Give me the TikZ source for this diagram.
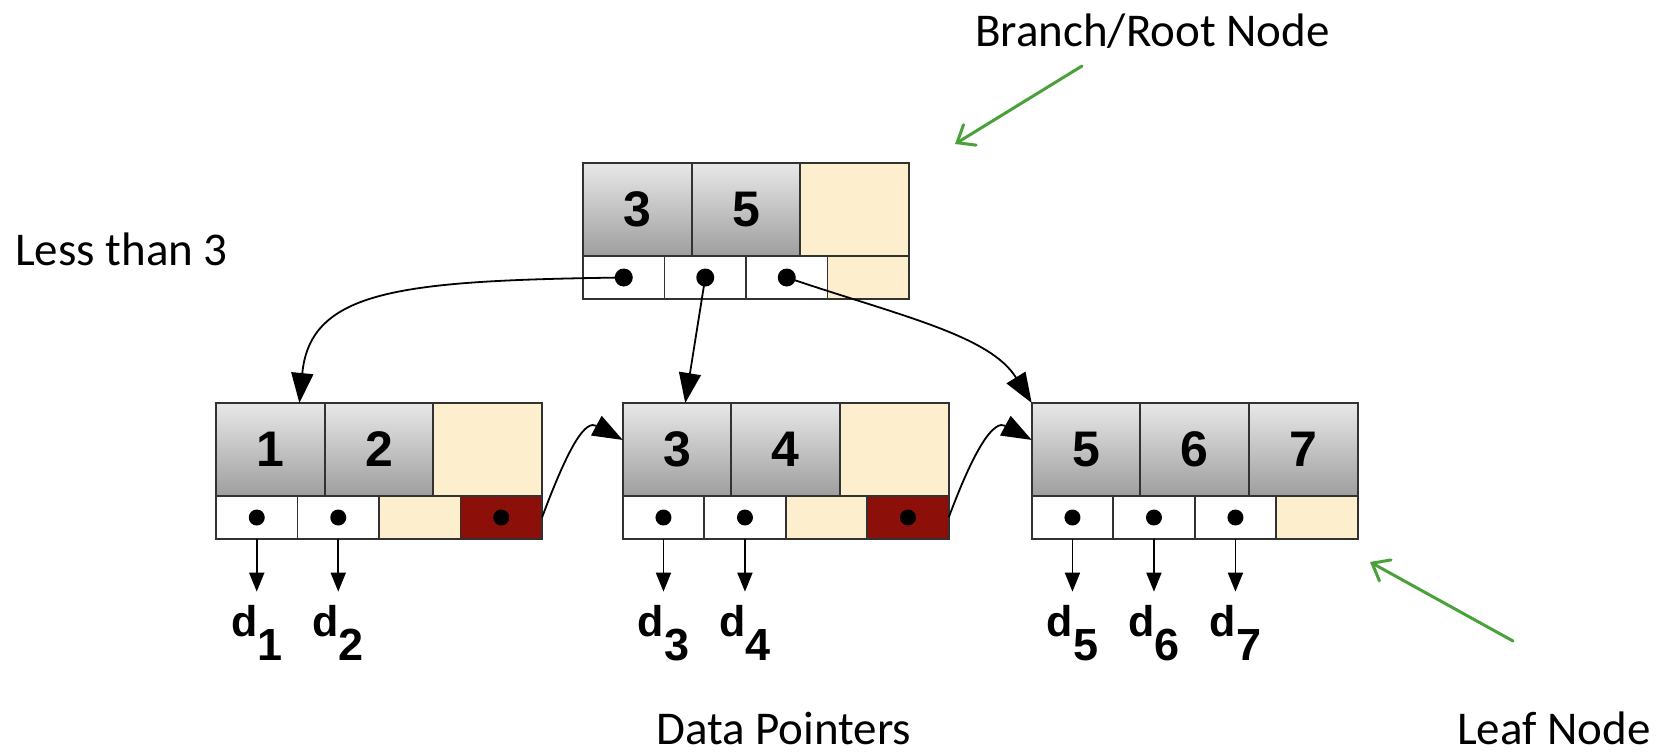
\documentclass[tikz,border=0pt]{standalone}
\usepackage{fontspec}
\setmainfont{Carlito}
\newfontfamily\keyfont{Liberation Sans}
\usetikzlibrary{arrows.meta,calc}

\definecolor{cellline}{RGB}{50,50,50}
\definecolor{keytop}{RGB}{232,232,232}
\definecolor{keybot}{RGB}{158,158,158}
\definecolor{freecell}{RGB}{253,239,205}
\definecolor{linkcell}{RGB}{140,15,10}
\definecolor{notegreen}{RGB}{74,160,58}

\tikzset{
  cell/.style={draw=cellline, line width=1.8pt, anchor=north west, inner sep=0pt, outer sep=0pt},
  keycell/.style={cell, minimum width=108.67pt, minimum height=93pt,
    top color=keytop, bottom color=keybot,
    font=\keyfont\bfseries\fontsize{50}{50}\selectfont},
  emptykey/.style={cell, minimum width=108.67pt, minimum height=93pt, fill=freecell},
  ptrcell/.style={cell, minimum width=81.5pt, minimum height=43pt, fill=white},
  emptyptr/.style={cell, minimum width=81.5pt, minimum height=43pt, fill=freecell},
  linkptr/.style={cell, minimum width=81.5pt, minimum height=43pt, fill=linkcell},
  dot/.style={circle, fill=black, inner sep=0pt, minimum size=18pt},
  treearrow/.style={line width=1.8pt, -{Triangle[length=30pt,width=22pt]}},
  dataarrow/.style={line width=1.8pt, -{Triangle[length=19pt,width=15pt]}, shorten >=13pt},
  dlabel/.style={anchor=base, inner sep=0pt, font=\keyfont\bfseries\fontsize{43}{43}\selectfont},
  note/.style={anchor=base west, inner sep=0pt, font=\fontsize{47}{56}\selectfont},
  notearrow/.style={draw=notegreen, line width=3pt, line cap=round,
    -{Straight Barb[length=15pt,width=24pt,line cap=round]}},
}

% one B+ tree node: name, left x, top y, key cells, pointer cells
\newcommand\btreenode[5]{%
  \foreach \txt/\sty [count=\i] in {#4}
    \node[style/.expanded=\sty] (#1-k\i) at ({#2+(\i-1)*108.67}, #3) {\txt};
  \foreach \sty [count=\i] in {#5}
    \node[style/.expanded=\sty] (#1-p\i) at ({#2+(\i-1)*81.5}, {#3+93}) {};
}

\begin{document}
\begin{tikzpicture}[x=1pt, y=-1pt]
  \useasboundingbox (0,0) rectangle (1671,755);

  % tree nodes
  \btreenode{root}{583}{163}{3/keycell,5/keycell,/emptykey}{ptrcell,ptrcell,ptrcell,emptyptr}
  \btreenode{l1}{216}{403}{1/keycell,2/keycell,/emptykey}{ptrcell,ptrcell,emptyptr,linkptr}
  \btreenode{l2}{622.7}{403}{3/keycell,4/keycell,/emptykey}{ptrcell,ptrcell,emptyptr,linkptr}
  \btreenode{l3}{1031.7}{403}{5/keycell,6/keycell,7/keycell}{ptrcell,ptrcell,ptrcell,emptyptr}

  % child pointers from the root
  \draw[treearrow] (root-p1.center) .. controls +(-224,3) and +(11,-113) .. (l1-k1.58);
  \draw[treearrow] (root-p2.center) -- (l2-k1.80);
  \draw[treearrow] (root-p3.center) .. controls +(112,38) and +(-42,-68) .. (l3-k1.north west);

  % sibling links between leaves
  \draw[treearrow] (l1-p4.east) .. controls +(28,-75) and +(-37,-20) .. (l2-k1.170);
  \draw[treearrow] (l2-p4.east) .. controls +(28,-75) and +(-37,-20) .. (l3-k1.170);

  % pointer dots
  \foreach \i in {1,2,3} \node[dot] (root-d\i) at (root-p\i) {};
  \foreach \n/\i in {l1/1,l1/2,l1/4,l2/1,l2/2,l2/4,l3/1,l3/2,l3/3}
    \node[dot, minimum size=16pt] (\n-d\i) at (\n-p\i) {};

  % data pointers
  \coordinate (dbase) at (0,636);
  \foreach \n/\p/\k in {l1/1/1, l1/2/2, l2/1/3, l2/2/4, l3/1/5, l3/2/6, l3/3/7} {
    \node[dlabel] (d\k) at (\n-p\p.south |- dbase) {d\raisebox{-24pt}{\fontsize{45}{45}\selectfont\k}};
    \draw[dataarrow] (\n-p\p.south) -- (d\k.north);
  }

  % annotations
  \node[note] (branchnote) at (975,46) {Branch/Root Node};
  \node[note] (lessnote) at (15,265) {Less than 3};
  \node[note] (datanote) at (656,744) {Data Pointers};
  \node[note] (leafnote) at (1457,744) {Leaf Node};

  \coordinate (branchtail) at (1082,66);
  \coordinate (branchtip) at (955,144);
  \coordinate (leaftail) at (1513,641);
  \coordinate (leaftip) at (1370,562);
  \draw[notearrow] (branchtail) -- (branchtip);
  \draw[notearrow] (leaftail) -- (leaftip);
\end{tikzpicture}
\end{document}
